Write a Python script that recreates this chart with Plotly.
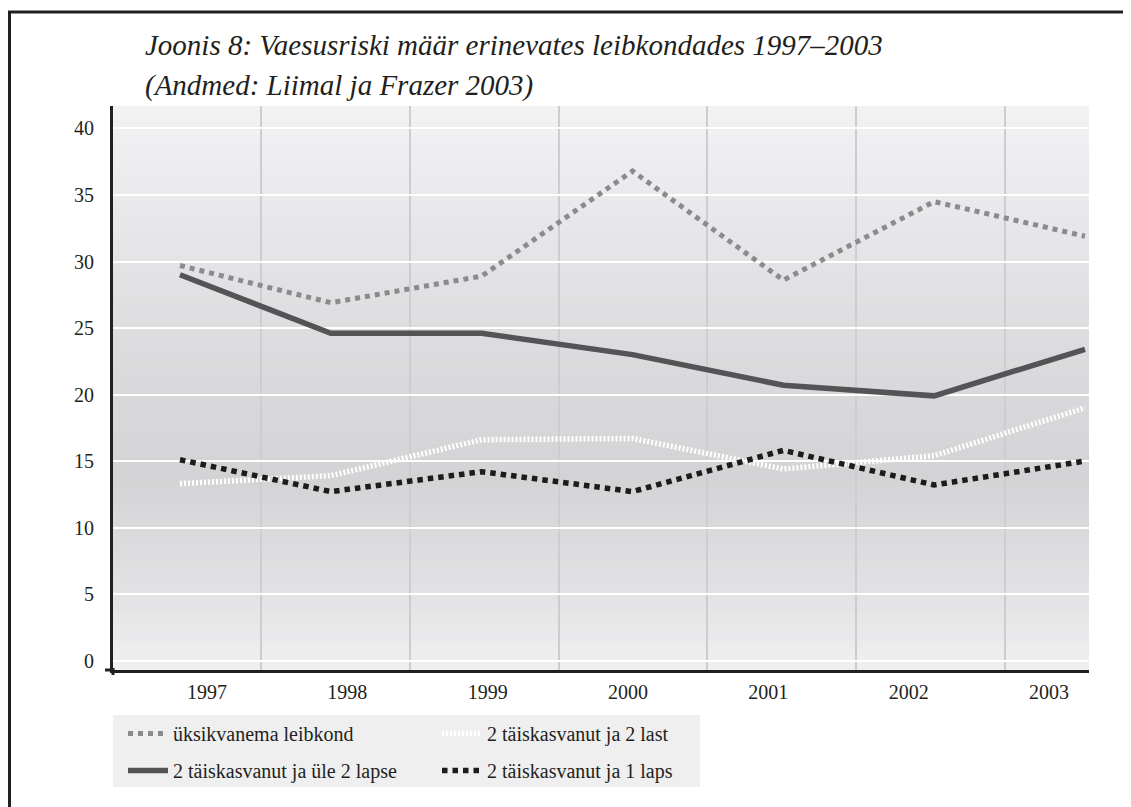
import plotly.graph_objects as go

# ---------------- data ----------------
years = [1997, 1998, 1999, 2000, 2001, 2002, 2003]
year_labels = ["1997", "1998", "1999", "2000", "2001", "2002", "2003"]
uksikvanema = [29.7, 26.9, 28.9, 36.8, 28.6, 34.5, 31.9]
yle_2_lapse = [29.0, 24.6, 24.6, 23.0, 20.7, 19.9, 23.4]
kaks_last = [13.3, 13.9, 16.6, 16.7, 14.4, 15.4, 19.0]
yks_laps = [15.1, 12.7, 14.2, 12.7, 15.8, 13.2, 15.0]
y_ticks = [0, 5, 10, 15, 20, 25, 30, 35, 40]

series_names = ["üksikvanema leibkond", "2 täiskasvanut ja üle 2 lapse",
                "2 täiskasvanut ja 2 last", "2 täiskasvanut ja 1 laps"]

# ---------------- layout geometry (reference pixels) ----------------
OFF = 8                      # page body margin
VW, VH = 1131, 807
W, H = VW - OFF, VH - OFF
L, R, T, B = 113, 1089, 106, 670   # plot area edges (reference px)
pw, ph = R - L, B - T

def px(x):
    return (x - L) / pw

def py(y):
    return (B - y) / ph

FONT = "Liberation Serif"
TXT = "#231f20"

fig = go.Figure()

fig.add_trace(go.Scatter(x=years, y=uksikvanema, name=series_names[0], mode="lines",
                         line=dict(color="#8b8b8d", width=5, dash="5px,5px"),
                         legend="legend", legendgroup="a"))
fig.add_trace(go.Scatter(x=years, y=yle_2_lapse, name=series_names[1], mode="lines",
                         line=dict(color="#545456", width=5.5),
                         legend="legend", legendgroup="b"))
fig.add_trace(go.Scatter(x=years, y=kaks_last, name=series_names[2], mode="lines",
                         line=dict(color="#ffffff", width=5.5, dash="2px,2px"),
                         legend="legend2", legendgroup="c"))
fig.add_trace(go.Scatter(x=years, y=yks_laps, name=series_names[3], mode="lines",
                         line=dict(color="#1c1c1c", width=5.5, dash="5.5px,5px"),
                         legend="legend2", legendgroup="d"))
# carrier for the category label axis
fig.add_trace(go.Scatter(x=years, y=[None] * len(years), xaxis="x2", yaxis="y",
                         showlegend=False, hoverinfo="skip", mode="lines"))

# ---------------- background gradient ----------------
stops = [(0.0, (242, 242, 243)), (0.06, (239, 239, 241)), (0.40, (221, 221, 223)),
         (0.66, (211, 211, 213)), (0.88, (228, 228, 230)), (1.0, (240, 240, 241))]

def grad(t):
    for (t0, c0), (t1, c1) in zip(stops[:-1], stops[1:]):
        if t0 <= t <= t1:
            f = (t - t0) / (t1 - t0) if t1 > t0 else 0
            return tuple(round(a + (b - a) * f) for a, b in zip(c0, c1))
    return stops[-1][1]

shapes = []
N = 80
for i in range(N):
    t0 = i / N
    t1 = (i + 1) / N
    c = grad((t0 + t1) / 2)
    shapes.append(dict(type="rect", xref="paper", yref="paper", x0=0, x1=1,
                       y0=max(0, 1 - t1 - 0.002), y1=1 - t0, line=dict(width=0),
                       fillcolor="rgb(%d,%d,%d)" % c, layer="below"))

# legend background
shapes.append(dict(type="rect", xref="paper", yref="paper", x0=px(113), x1=px(700),
                   y0=py(787), y1=py(715), line=dict(width=0), fillcolor="#efeff0",
                   layer="below"))
# outer frame (top and left)
shapes.append(dict(type="line", xref="paper", yref="paper", x0=px(8), x1=px(1140),
                   y0=py(12), y1=py(12), line=dict(color=TXT, width=3)))
shapes.append(dict(type="line", xref="paper", yref="paper", x0=px(9.5), x1=px(9.5),
                   y0=py(11), y1=py(815), line=dict(color=TXT, width=3)))
# axis overshoot
shapes.append(dict(type="line", xref="paper", yref="paper", x0=px(105), x1=px(114),
                   y0=py(670), y1=py(670), line=dict(color=TXT, width=3)))
shapes.append(dict(type="line", xref="paper", yref="paper", x0=px(113), x1=px(113),
                   y0=py(668), y1=py(675), line=dict(color=TXT, width=3)))

annotations = [
    dict(text="<i>Joonis 8: Vaesusriski määr erinevates leibkondades 1997–2003</i>",
         xref="paper", yref="paper", x=px(143), y=py(45), xanchor="left",
         yanchor="middle", showarrow=False, font=dict(family=FONT, size=29, color=TXT)),
    dict(text="<i>(Andmed: Liimal ja Frazer 2003)</i>",
         xref="paper", yref="paper", x=px(143), y=py(85), xanchor="left",
         yanchor="middle", showarrow=False, font=dict(family=FONT, size=29, color=TXT)),
]

# gridline positions (category boundaries) on the data axis
grid_x = [1997.54, 1998.524, 1999.511, 2000.494, 2001.482, 2002.47]

fig.update_layout(
    width=W, height=H,
    margin=dict(l=L - OFF, r=VW - R, t=T - OFF, b=VH - B, pad=0),
    paper_bgcolor="white",
    plot_bgcolor="rgba(0,0,0,0)",
    font=dict(family=FONT, size=20, color=TXT),
    shapes=shapes,
    annotations=annotations,
    xaxis=dict(range=[1996.556, 2003.0265], tickvals=grid_x, showticklabels=False,
               showgrid=True, gridcolor="#cdcdcf", gridwidth=2, ticks="",
               showline=True, linewidth=3, linecolor=TXT, zeroline=False),
    xaxis2=dict(overlaying="x", anchor="y", side="bottom", range=[1996.33, 2003.285],
                tickvals=years, ticktext=year_labels, showgrid=False, showline=False,
                zeroline=False, ticks="outside", ticklen=4,
                tickcolor="rgba(0,0,0,0)", tickfont=dict(family=FONT, size=20, color=TXT)),
    yaxis=dict(range=[-0.71, 41.69], tickvals=y_ticks, showgrid=True, gridcolor="white",
               gridwidth=2, showline=True, linewidth=3, linecolor=TXT, zeroline=False,
               ticks="outside", ticklen=12, tickcolor="rgba(0,0,0,0)",
               tickfont=dict(family=FONT, size=20, color=TXT)),
    legend=dict(x=px(123), y=py(714), xanchor="left", yanchor="top",
                orientation="v", bgcolor="rgba(0,0,0,0)", tracegroupgap=8,
                font=dict(family=FONT, size=20, color=TXT), itemwidth=40),
    legend2=dict(x=px(437), y=py(714), xanchor="left", yanchor="top",
                 orientation="v", bgcolor="rgba(0,0,0,0)", tracegroupgap=8,
                 font=dict(family=FONT, size=20, color=TXT), itemwidth=40),
    showlegend=True,
)

fig.write_html("out.html")
